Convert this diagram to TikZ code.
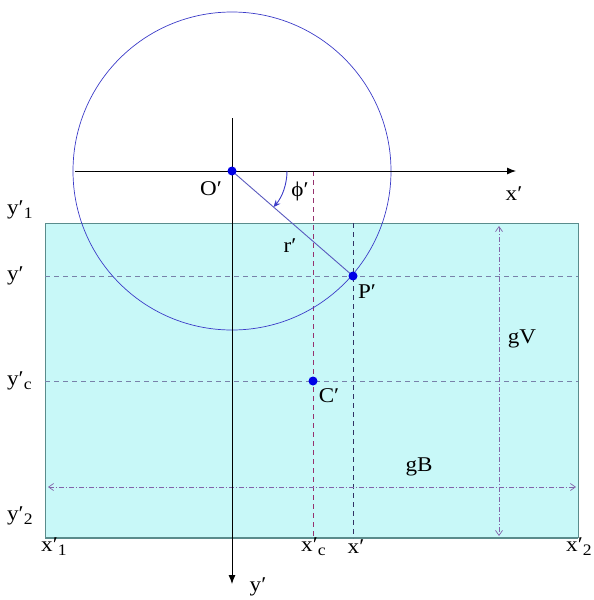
\documentclass[tikz,border=0pt]{standalone}
\usepackage{fontspec}
\setmainfont{Liberation Serif}[FakeStretch=1.1]
\usetikzlibrary{arrows.meta}
\definecolor{fillc}{RGB}{200,248,248}
\definecolor{rectb}{RGB}{90,140,140}
\definecolor{circc}{RGB}{60,60,200}
\definecolor{linec}{RGB}{90,90,190}
\definecolor{vdash1}{RGB}{150,50,110}
\definecolor{vdash2}{RGB}{50,50,100}
\definecolor{hdash}{RGB}{120,130,170}
\definecolor{dimc}{RGB}{130,100,170}
\definecolor{dotc}{RGB}{0,0,230}
\tikzset{
  lbl/.style={font=\fontsize{21}{24}\selectfont, inner sep=0pt},
  axis/.style={draw=black, line width=0.9pt, -{Latex[length=9pt,width=7pt]}},
  dotn/.style={circle, fill=dotc, minimum size=9pt, inner sep=0pt},
  hd/.style={draw=hdash, dashed, dash pattern=on 5pt off 4pt, line width=0.8pt},
  dim/.style={draw=dimc, line width=0.7pt, dash pattern=on 5pt off 2pt on 1pt off 2pt, {Straight Barb[length=5pt,width=7pt]}-{Straight Barb[length=5pt,width=7pt]}}
}
\newcommand{\pr}{\char"2032}
\newcommand{\sbs}[1]{\raisebox{-4pt}{\fontsize{16}{18}\selectfont #1}}
\begin{document}
\begin{tikzpicture}[x=1pt,y=-1pt]
\useasboundingbox (0,0) rectangle (594,600);
% rectangle
\fill[fillc] (45,223) rectangle (578,538);
\draw[rectb, line width=0.9pt] (45,538) -- (45,223) -- (578,223) -- (578,538);
\draw[rectb, line width=1.2pt] (45,538) -- (578,538);
% coordinates
\coordinate (O) at (232,171);
\coordinate (P) at (353,276);
\coordinate (C) at (313,381);
\coordinate (xl) at (75,171);
\coordinate (xr) at (516,171);
\coordinate (yt) at (232,118);
\coordinate (yb) at (232,584);
% horizontal dashed lines
\coordinate (h1l) at (45,276); \coordinate (h1r) at (578,276);
\coordinate (h2l) at (45,381); \coordinate (h2r) at (578,381);
\draw[hd] (h1l) -- (h1r);
\draw[hd] (h2l) -- (h2r);
% vertical dashed lines
\coordinate (v1t) at (313,171); \coordinate (v1b) at (313,538);
\coordinate (v2t) at (353,223); \coordinate (v2b) at (353,538);
\draw[vdash1, dashed, dash pattern=on 5pt off 4pt, line width=0.8pt] (v1t) -- (v1b);
\draw[vdash2, dashed, dash pattern=on 5pt off 4pt, line width=0.8pt] (v2t) -- (v2b);
% dimension arrows
\coordinate (gvt) at (499,226); \coordinate (gvb) at (499,536);
\coordinate (gbl) at (48,487); \coordinate (gbr) at (576,487);
\draw[dim] (gvt) -- (gvb);
\draw[dim] (gbl) -- (gbr);
% circle
\draw[circc, line width=0.7pt] (O) circle[radius=159];
% axes
\draw[axis] (xl) -- (xr);
\draw[axis] (yt) -- (yb);
% radius line
\draw[linec, line width=0.9pt] (O) -- (P);
% phi arc
\draw[circc, line width=0.9pt, -{Stealth[length=7pt,width=6pt]}] (287,171) arc[start angle=0, end angle=41, radius=55];
% dots
\node[dotn] (Od) at (O) {};
\node[dotn] (Pd) at (P) {};
\node[dotn] (Cd) at (C) {};
% labels
\node[lbl] (lO) at (211,189) {O\pr};
\node[lbl] (lphi) at (300,191) {\char"03D5\pr};
\node[lbl] (lxa) at (514,194) {x\pr};
\node[lbl] (lr) at (290,246) {r\pr};
\node[lbl] (lP) at (367,292) {P\pr};
\node[lbl] (lC) at (329,396) {C\pr};
\node[lbl] (lgV) at (522,339) {gV};
\node[lbl] (lgB) at (419,467) {gB};
\node[lbl, anchor=west] (ly1) at (7,210) {y\pr\sbs{1}};
\node[lbl, anchor=west] (ly) at (7,276) {y\pr};
\node[lbl, anchor=west] (lyc) at (7,381) {y\pr\sbs{c}};
\node[lbl, anchor=west] (ly2) at (7,516) {y\pr\sbs{2}};
\node[lbl, anchor=west] (lx1) at (41,547) {x\pr\sbs{1}};
\node[lbl, anchor=west] (lxc) at (301,547) {x\pr\sbs{c}};
\node[lbl] (lx) at (356,547) {x\pr};
\node[lbl, anchor=west] (lx2) at (566,547) {x\pr\sbs{2}};
\node[lbl] (lya) at (258,587) {y\pr};
\end{tikzpicture}
\end{document}
